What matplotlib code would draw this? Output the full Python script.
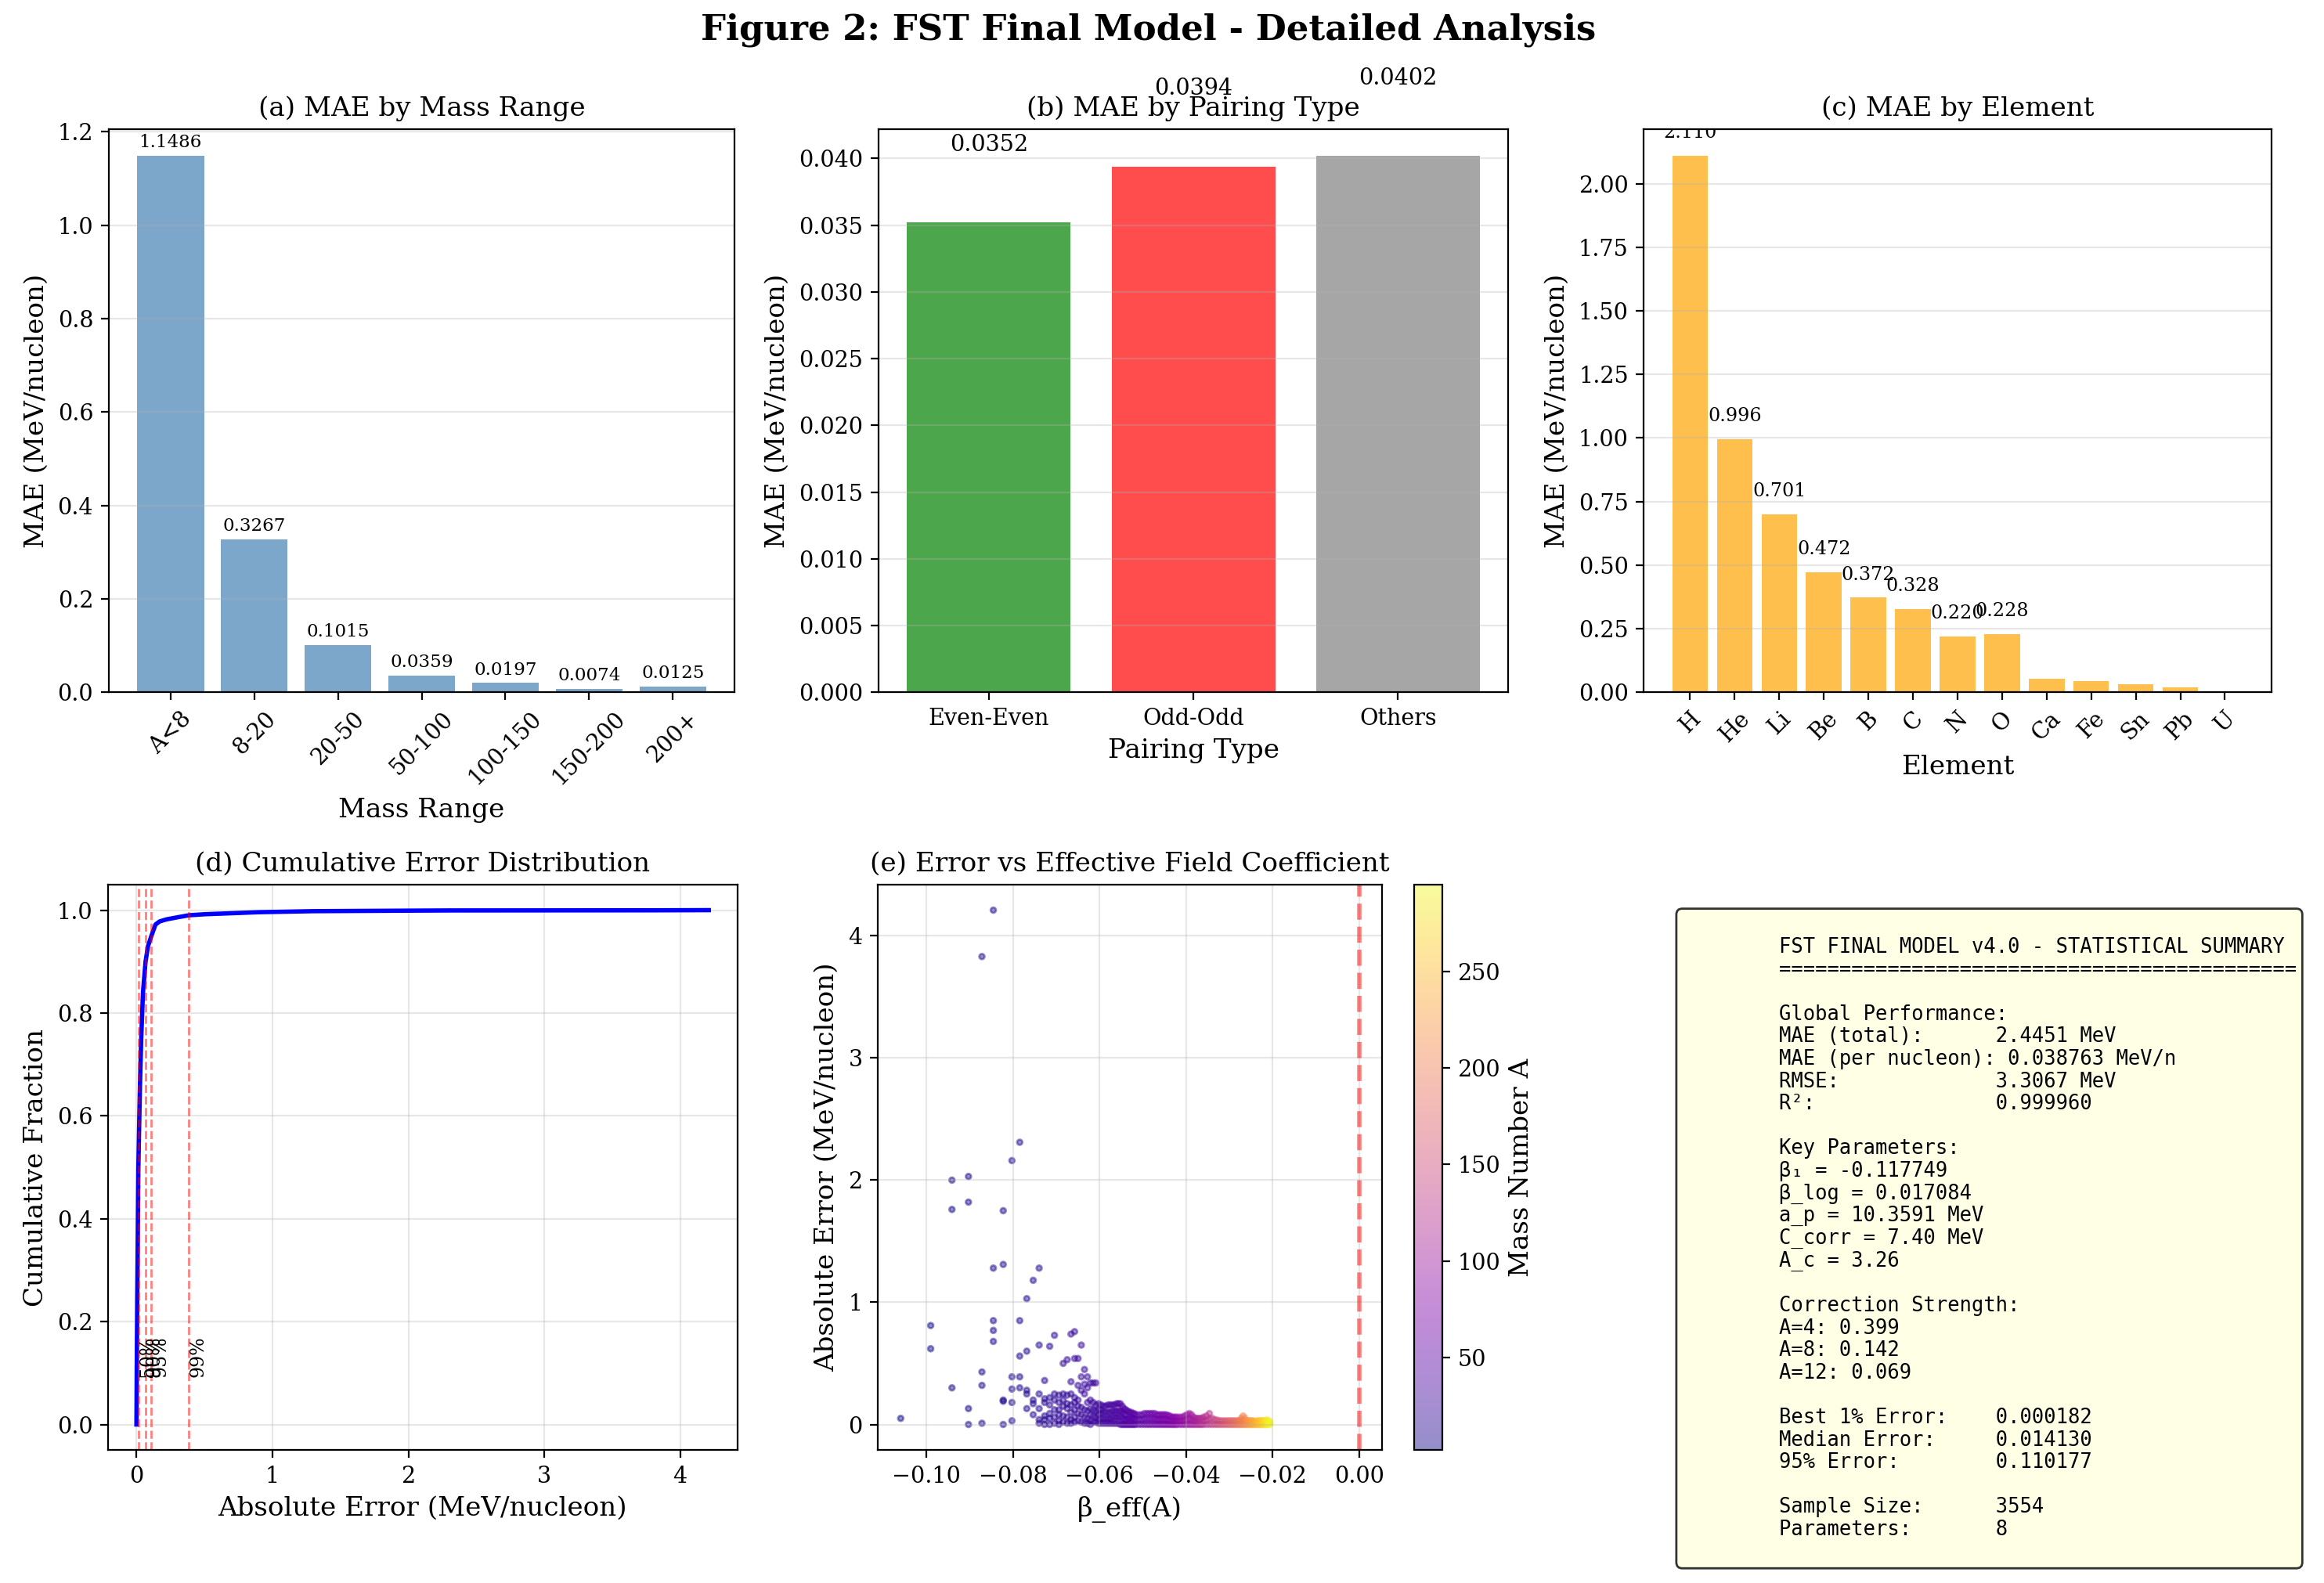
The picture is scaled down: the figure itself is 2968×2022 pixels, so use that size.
import matplotlib
matplotlib.use("Agg")
import matplotlib.pyplot as plt
import numpy as np

plt.rcParams['font.family'] = 'serif'
plt.rcParams['font.serif'] = ['DejaVu Serif']

# (a) MAE by mass range
mass_ranges = ['A<8', '8-20', '20-50', '50-100', '100-150', '150-200', '200+']
mass_mae = [1.1486, 0.3267, 0.1015, 0.0359, 0.0197, 0.0074, 0.0125]

# (b) MAE by pairing type
pairing_types = ['Even-Even', 'Odd-Odd', 'Others']
pairing_mae = [0.0352, 0.0394, 0.0402]
pairing_colors = ['green', 'red', 'gray']

# (c) MAE by element
elements = ['H', 'He', 'Li', 'Be', 'B', 'C', 'N', 'O', 'Ca', 'Fe', 'Sn', 'Pb', 'U']
element_mae = [2.110, 0.996, 0.701, 0.472, 0.372, 0.328, 0.220, 0.228,
               0.054, 0.045, 0.033, 0.020, 0.005]

# (d) cumulative error distribution
cdf_err = [0.0, 0.000182, 0.002, 0.006, 0.0141, 0.025, 0.035, 0.048, 0.067,
           0.085, 0.110, 0.14, 0.17, 0.22, 0.30, 0.385, 0.5, 0.7, 0.9,
           1.3, 2.0, 2.3, 3.83, 4.21]
cdf_frac = [0.0, 0.01, 0.1, 0.25, 0.5, 0.65, 0.75, 0.84, 0.9,
            0.93, 0.95, 0.972, 0.978, 0.982, 0.986, 0.99, 0.992, 0.994, 0.996,
            0.998, 0.999, 0.9994, 0.9997, 1.0]
pct_levels = [50, 90, 95, 99]
pct_values = [0.0141, 0.067, 0.110, 0.385]

# (e) error vs beta_eff, per nucleus: mass number and absolute error
scatter_A = [
    2,
    3, 3,
    4, 4, 4,
    5, 5, 5, 5,
    6, 6, 6, 6,
    7, 7, 7, 7, 7,
    8, 8, 8, 8, 8,
    9, 9, 9, 9, 9,
    10, 10, 10, 10, 10,
    11, 11, 11, 11, 11,
    12, 12, 12, 12,
    13, 13, 13, 13, 13, 13,
    14, 14, 14, 14, 14, 14,
    15, 15, 15, 15, 15, 15,
    16, 16, 16, 16, 16, 16,
    17, 17, 17, 17, 17, 17,
    18, 18, 18, 18, 18, 18,
    19, 19, 19, 19, 19, 19,
    20, 20, 20, 20, 20, 20, 20,
    21, 21, 21, 21, 21, 21, 21,
    22, 22, 22, 22, 22, 22,
    23, 23, 23, 23, 23, 23,
    24, 24, 24, 24, 24, 24,
    25, 25, 25, 25, 25, 25,
    26, 26, 26, 26, 26, 26,
    27, 27, 27, 27, 27,
    28, 28, 28, 28, 28,
    29, 29, 29, 29, 29,
    30, 30, 30, 30, 30,
    31, 31, 31, 31, 32, 32, 32, 32, 33, 33, 33, 33, 34, 34, 34, 34,
    35, 35, 35, 35, 36, 36, 36, 36, 37, 37, 37, 37, 38, 38, 38, 38,
    39, 39, 39, 39, 40, 40, 40, 40, 41, 41, 41, 41, 42, 42, 42, 42,
    43, 43, 43, 44, 44, 44, 45, 45, 45, 46, 46, 46, 47, 47, 47, 48, 48, 48,
    50, 50, 50, 52, 52, 52, 54, 54, 54, 56, 56, 56, 58, 58, 58, 60, 60, 60,
    62, 62, 62, 64, 64, 64, 66, 66, 66, 68, 68, 68, 70, 70, 70, 72, 72, 72,
    74, 74, 74, 76, 76, 76, 78, 78, 78, 80, 80, 80, 82, 82, 82, 84, 84, 84,
    87, 87, 87, 90, 90, 90, 93, 93, 93, 96, 96, 96,
    99, 99, 99, 102, 102, 102, 105, 105, 105, 108, 108, 108, 111, 111, 114, 114,
    117, 117, 120, 120, 120, 125, 125, 125, 130, 130, 130, 135, 135, 140, 140,
    145, 145, 150, 150, 155, 155, 160, 160, 165, 165, 170, 170, 175, 175,
    180, 180, 185, 185, 190, 190, 195, 195, 200, 200, 200, 205, 205, 205,
    210, 210, 215, 215, 220, 220, 225, 225, 230, 230, 235, 235, 240, 240,
    245, 245, 250, 250, 255, 255, 260, 260, 265, 265, 270, 270, 275, 275,
    280, 280, 285, 285, 290, 290, 295, 295,
]
scatter_err = [
    0.05,
    0.81, 0.62,
    2.00, 1.76, 0.30,
    2.03, 1.82, 0.13, 0.00,
    3.83, 0.43, 0.32, 0.01,
    4.21, 1.28, 0.85, 0.77, 0.68,
    1.75, 1.31, 0.20, 0.19, 0.00,
    2.16, 0.39, 0.29, 0.18, 0.03,
    2.31, 0.85, 0.56, 0.39, 0.30,
    1.03, 0.60, 0.28, 0.25, 0.13,
    1.18, 0.20, 0.17, 0.08,
    1.28, 0.65, 0.25, 0.13, 0.04, 0.01,
    0.36, 0.21, 0.18, 0.07, 0.04, 0.00,
    0.64, 0.22, 0.16, 0.09, 0.05, 0.00,
    0.73, 0.25, 0.20, 0.12, 0.06, 0.01,
    0.24, 0.18, 0.12, 0.08, 0.03, 0.00,
    0.50, 0.25, 0.20, 0.15, 0.07, 0.02,
    0.53, 0.24, 0.17, 0.13, 0.06, 0.01,
    0.74, 0.35, 0.25, 0.16, 0.10, 0.04, 0.01,
    0.76, 0.54, 0.22, 0.18, 0.12, 0.06, 0.02,
    0.54, 0.32, 0.20, 0.15, 0.09, 0.03,
    0.65, 0.39, 0.28, 0.14, 0.08, 0.02,
    0.45, 0.33, 0.25, 0.12, 0.06, 0.01,
    0.39, 0.30, 0.18, 0.11, 0.05, 0.01,
    0.34, 0.20, 0.13, 0.08, 0.03, 0.00,
    0.34, 0.18, 0.12, 0.07, 0.02,
    0.34, 0.16, 0.11, 0.06, 0.02,
    0.17, 0.12, 0.08, 0.04, 0.01,
    0.16, 0.12, 0.09, 0.05, 0.01,
    0.15, 0.10, 0.05, 0.01, 0.15, 0.10, 0.05, 0.01, 0.16, 0.10, 0.05, 0.01, 0.16, 0.10, 0.05, 0.01,
    0.16, 0.11, 0.06, 0.01, 0.16, 0.11, 0.06, 0.01, 0.17, 0.11, 0.06, 0.01, 0.17, 0.11, 0.06, 0.01,
    0.17, 0.11, 0.06, 0.00, 0.15, 0.10, 0.05, 0.00, 0.13, 0.09, 0.04, 0.00, 0.12, 0.08, 0.04, 0.00,
    0.11, 0.05, 0.00, 0.10, 0.05, 0.00, 0.10, 0.05, 0.00, 0.09, 0.045, 0.00, 0.09, 0.045, 0.00, 0.08, 0.04, 0.00,
    0.08, 0.04, 0.00, 0.08, 0.04, 0.00, 0.09, 0.045, 0.00, 0.09, 0.045, 0.00, 0.09, 0.045, 0.00, 0.09, 0.045, 0.00,
    0.09, 0.045, 0.00, 0.08, 0.04, 0.00, 0.08, 0.04, 0.00, 0.08, 0.04, 0.00, 0.08, 0.04, 0.00, 0.08, 0.04, 0.00,
    0.075, 0.035, 0.00, 0.07, 0.035, 0.00, 0.06, 0.03, 0.00, 0.06, 0.03, 0.00, 0.06, 0.03, 0.00, 0.06, 0.03, 0.00,
    0.06, 0.03, 0.00, 0.06, 0.03, 0.00, 0.07, 0.035, 0.00, 0.08, 0.04, 0.00,
    0.09, 0.045, 0.00, 0.08, 0.04, 0.00, 0.06, 0.03, 0.00, 0.05, 0.025, 0.00, 0.05, 0.00, 0.05, 0.00,
    0.05, 0.00, 0.06, 0.03, 0.00, 0.07, 0.035, 0.00, 0.09, 0.045, 0.00, 0.05, 0.00, 0.04, 0.00,
    0.035, 0.00, 0.03, 0.00, 0.03, 0.00, 0.03, 0.00, 0.03, 0.00, 0.03, 0.00, 0.03, 0.00,
    0.03, 0.00, 0.03, 0.00, 0.03, 0.00, 0.03, 0.00, 0.05, 0.025, 0.00, 0.07, 0.035, 0.00,
    0.05, 0.00, 0.03, 0.00, 0.03, 0.00, 0.03, 0.00, 0.03, 0.00, 0.03, 0.00, 0.025, 0.00,
    0.025, 0.00, 0.03, 0.00, 0.03, 0.00, 0.03, 0.00, 0.03, 0.00, 0.03, 0.00, 0.03, 0.00,
    0.035, 0.00, 0.035, 0.00, 0.03, 0.00, 0.02, 0.00,
]

# fitted field coefficient parameters (shown in the summary box)
beta_1 = -0.117749
beta_log = 0.017084

summary_text = """
        FST FINAL MODEL v4.0 - STATISTICAL SUMMARY
        ===========================================

        Global Performance:
        MAE (total):      2.4451 MeV
        MAE (per nucleon): 0.038763 MeV/n
        RMSE:             3.3067 MeV
        R²:               0.999960

        Key Parameters:
        β₁ = -0.117749
        β_log = 0.017084
        a_p = 10.3591 MeV
        C_corr = 7.40 MeV
        A_c = 3.26

        Correction Strength:
        A=4: 0.399
        A=8: 0.142
        A=12: 0.069

        Best 1% Error:    0.000182
        Median Error:     0.014130
        95% Error:        0.110177

        Sample Size:      3554
        Parameters:       8
        """

fig = plt.figure(figsize=(14.84, 10.11))
fig.suptitle('Figure 2: FST Final Model - Detailed Analysis', fontsize=16.2,
             fontweight='bold', x=0.494, y=0.981, va='center')

TICK = 10.3
LAB = 12.3
TIT = 12.3

ax1 = fig.add_axes([0.0467, 0.5627, 0.2695, 0.3558])
ax2 = fig.add_axes([0.378, 0.5627, 0.271, 0.3558])
ax3 = fig.add_axes([0.7073, 0.5627, 0.270, 0.3558])
ax4 = fig.add_axes([0.0464, 0.0839, 0.2709, 0.3574])
ax5 = fig.add_axes([0.3777, 0.0839, 0.2170, 0.3574])
cax = fig.add_axes([0.6084, 0.0839, 0.0122, 0.3574])

# (a)
x = np.arange(len(mass_ranges))
bars = ax1.bar(x, mass_mae, color='steelblue', alpha=0.7)
for b, v in zip(bars, mass_mae):
    ax1.text(b.get_x() + b.get_width() / 2, v + 0.01, f'{v:.4f}',
             ha='center', va='bottom', fontsize=8.3)
ax1.set_xticks(x)
ax1.set_xticklabels(mass_ranges, rotation=45)
ax1.set_xlabel('Mass Range', fontsize=LAB)
ax1.set_ylabel('MAE (MeV/nucleon)', fontsize=LAB)
ax1.set_title('(a) MAE by Mass Range', fontsize=TIT)
ax1.grid(True, axis='y', alpha=0.3)
ax1.tick_params(labelsize=TICK)

# (b)
x = np.arange(len(pairing_types))
bars = ax2.bar(x, pairing_mae, color=pairing_colors, alpha=0.7)
for b, v in zip(bars, pairing_mae):
    ax2.text(b.get_x() + b.get_width() / 2, v + 0.005, f'{v:.4f}',
             ha='center', va='bottom', fontsize=10.3)
ax2.set_xticks(x)
ax2.set_xticklabels(pairing_types)
ax2.set_xlabel('Pairing Type', fontsize=LAB)
ax2.set_ylabel('MAE (MeV/nucleon)', fontsize=LAB)
ax2.set_title('(b) MAE by Pairing Type', fontsize=TIT)
ax2.grid(True, axis='y', alpha=0.3)
ax2.tick_params(labelsize=TICK)

# (c)
x = np.arange(len(elements))
bars = ax3.bar(x, element_mae, color='orange', alpha=0.7)
for b, v in zip(bars, element_mae):
    if v > 0.1:
        ax3.text(b.get_x() + b.get_width() / 2, v + 0.055, f'{v:.3f}',
                 ha='center', va='bottom', fontsize=8.6, clip_on=True)
ax3.set_xticks(x)
ax3.set_xticklabels(elements, rotation=45)
ax3.set_xlabel('Element', fontsize=LAB)
ax3.set_ylabel('MAE (MeV/nucleon)', fontsize=LAB)
ax3.set_title('(c) MAE by Element', fontsize=TIT)
ax3.grid(True, axis='y', alpha=0.3)
ax3.tick_params(labelsize=TICK)

# (d)
ax4.plot(cdf_err, cdf_frac, color='blue', linewidth=2)
for p, v in zip(pct_levels, pct_values):
    ax4.axvline(v, color='red', linestyle='--', alpha=0.5, linewidth=1)
    ax4.text(v, 0.1, f'{p}%', rotation=90, fontsize=8.5)
ax4.set_xlabel('Absolute Error (MeV/nucleon)', fontsize=LAB)
ax4.set_ylabel('Cumulative Fraction', fontsize=LAB)
ax4.set_title('(d) Cumulative Error Distribution', fontsize=TIT)
ax4.grid(True, alpha=0.3)
ax4.tick_params(labelsize=TICK)

# (e)
A = np.array(scatter_A, dtype=float)
beta_eff = beta_1 + beta_log * np.log(A)
sc = ax5.scatter(beta_eff, scatter_err, c=A, cmap='plasma', s=6,
                 linewidths=1.0, alpha=0.45)
ax5.axvline(0, color='red', linestyle='--', alpha=0.5, linewidth=2)
ax5.set_xlabel('β_eff(A)', fontsize=LAB)
ax5.set_ylabel('Absolute Error (MeV/nucleon)', fontsize=LAB)
ax5.set_title('(e) Error vs Effective Field Coefficient', fontsize=TIT)
ax5.grid(True, alpha=0.3)
ax5.tick_params(labelsize=TICK)
cb = fig.colorbar(sc, cax=cax)
cb.set_label('Mass Number A', fontsize=LAB)
cb.ax.tick_params(labelsize=TICK)

# (f) summary box
fig.text(0.7239, 0.4222, summary_text, family='DejaVu Sans Mono', fontsize=9.2,
         linespacing=1.13, ha='left', va='top',
         bbox=dict(boxstyle='round', facecolor='lightyellow', alpha=0.8))

fig.savefig('out.png', dpi=200)
